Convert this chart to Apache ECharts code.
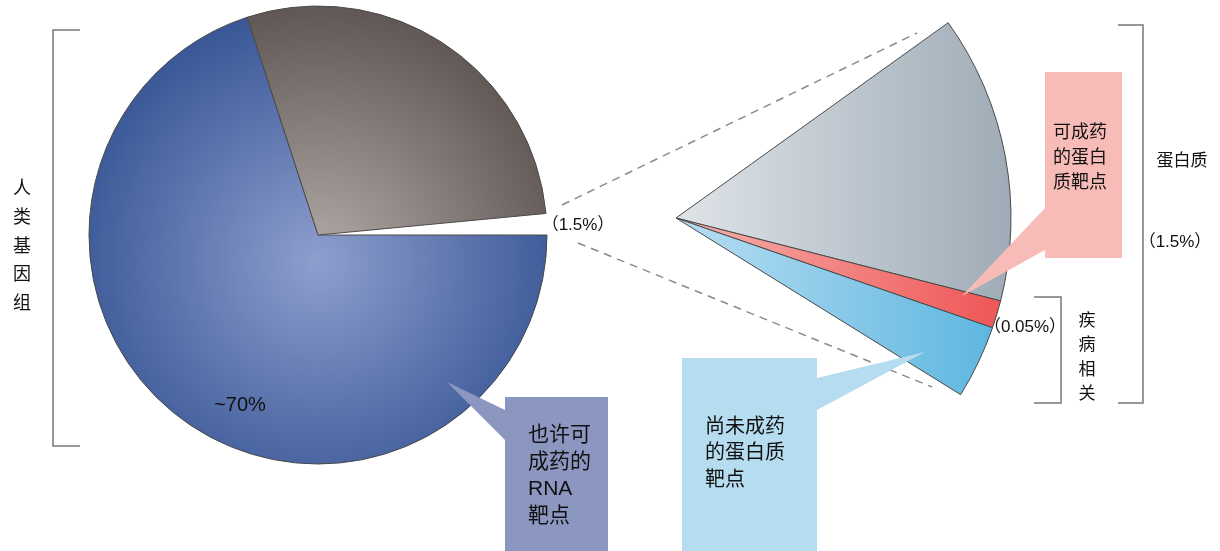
<!DOCTYPE html>
<html lang="zh">
<head>
<meta charset="UTF-8">
<title>人类基因组与药物靶点</title>
<script src="https://cdn.jsdelivr.net/npm/echarts@6/dist/echarts.min.js"></script>
<style>
  html, body { margin: 0; padding: 0; background: #fff; }
  #main { width: 1220px; height: 551px; }
</style>
</head>
<body>
<div id="main"></div>
<script>
// 人类基因组：左边的大饼
var genomeNames = ['也许可成药的RNA靶点', '其他', '蛋白质'];
var genomeValues = [70, 28.5, 1.5];
// 蛋白质部分放大成扇形（按图上读出的角度份额）
var proteinNames = ['其他蛋白质', '可成药的蛋白质靶点', '尚未成药的蛋白质靶点'];
var proteinValues = [50, 4.8, 12.7];
// 图上的文字
var pctLabels = ['~70%', '（1.5%）', '（0.05%）', '（1.5%）'];
var sideLabels = ['人类基因组', '疾病相关', '蛋白质'];
var boxLabels = [
  ['也许可', '成药的', 'RNA', '靶点'],
  ['尚未成药', '的蛋白质', '靶点'],
  ['可成药', '的蛋白', '质靶点']
];

var FONT = '"Liberation Sans", "Noto Sans CJK SC", sans-serif';
var CJK = '"Noto Sans CJK SC", sans-serif';

function lin(c1, c2) {
  return { type: 'linear', x: 676, y: 0, x2: 1013, y2: 0, global: true,
    colorStops: [{ offset: 0, color: c1 }, { offset: 1, color: c2 }] };
}
function rad(c1, c2) {
  return { type: 'radial', x: 318, y: 262, r: 250, global: true,
    colorStops: [{ offset: 0, color: c1 }, { offset: 1, color: c2 }] };
}

var border = { borderColor: '#4a4a4a', borderWidth: 1 };
var genomeStyles = [
  Object.assign({ color: rad('#8e9ecd', '#3a5897') }, border),
  Object.assign({ color: rad('#b3aba7', '#625956') }, border),
  { color: 'rgba(0,0,0,0)', borderWidth: 0 }
];
var proteinStyles = [
  Object.assign({ color: lin('#dfe4e8', '#9eabb6') }, border),
  Object.assign({ color: lin('#f7b2ae', '#ee5353') }, border),
  Object.assign({ color: lin('#b9def2', '#58b4df') }, border)
];

function vtext(str) { return str.split('').join('\n'); }
function txt(x, y, text, size, opts) {
  return {
    type: 'text', x: x, y: y, z: 110,
    style: Object.assign({ text: text, fill: '#111', font: size + 'px ' + FONT,
      textAlign: 'center', textVerticalAlign: 'middle' }, opts || {})
  };
}
function bracket(pts) {
  return { type: 'polyline', z: 100, shape: { points: pts },
    style: { stroke: '#777', lineWidth: 1.5, fill: null } };
}

var chart = echarts.init(document.getElementById('main'));
chart.setOption({
  backgroundColor: '#fff',
  animation: false,
  series: [
    {
      type: 'pie', silent: true,
      center: [318, 235], radius: 229,
      startAngle: 0, clockwise: true,
      label: { show: false }, labelLine: { show: false },
      data: genomeValues.map(function (v, i) {
        return { name: genomeNames[i], value: v, itemStyle: genomeStyles[i] };
      })
    },
    {
      type: 'pie', silent: true,
      center: [676, 218], radius: 335,
      startAngle: 35.66, endAngle: -31.82, clockwise: true,
      label: { show: false }, labelLine: { show: false },
      data: proteinValues.map(function (v, i) {
        return { name: proteinNames[i], value: v, itemStyle: proteinStyles[i] };
      })
    }
  ],
  graphic: [
    // 虚线
    { type: 'line', z: 1, shape: { x1: 562, y1: 205, x2: 917, y2: 33 },
      style: { stroke: '#8a8a8a', lineWidth: 1.5, lineDash: [8, 6] } },
    { type: 'line', z: 1, shape: { x1: 578, y1: 243, x2: 932, y2: 387 },
      style: { stroke: '#8a8a8a', lineWidth: 1.5, lineDash: [8, 6] } },
    // 括号
    bracket([[80, 30], [53, 30], [53, 446], [80, 446]]),
    bracket([[1118, 25], [1143, 25], [1143, 403], [1118, 403]]),
    bracket([[1034, 297], [1061, 297], [1061, 403], [1034, 403]]),
    // 标注框
    { type: 'polygon', z: 100, shape: { points: [[447, 382], [505, 410], [505, 440]] }, style: { fill: '#8b97c1' } },
    { type: 'rect', z: 100, shape: { x: 505, y: 397, width: 103, height: 160 }, style: { fill: '#8b97c1' } },
    { type: 'polygon', z: 100, shape: { points: [[962, 296], [1045, 208], [1045, 250]] }, style: { fill: '#f7bcb7' } },
    { type: 'rect', z: 100, shape: { x: 1045, y: 72, width: 77, height: 186 }, style: { fill: '#f7bcb7' } },
    { type: 'polygon', z: 100, shape: { points: [[925, 352], [817, 378], [817, 410]] }, style: { fill: '#b6dcf0' } },
    { type: 'rect', z: 100, shape: { x: 682, y: 358, width: 135, height: 200 }, style: { fill: '#b6dcf0' } },
    // 文字
    txt(240, 405, pctLabels[0], 20),
    txt(578, 225, pctLabels[1], 17),
    txt(1025, 327, pctLabels[2], 17),
    txt(1175, 242, pctLabels[3], 17),
    txt(22, 173, vtext(sideLabels[0]), 18, { textVerticalAlign: 'top', lineHeight: 28.7, font: '18px ' + CJK }),
    txt(1087, 307, vtext(sideLabels[1]), 17, { textVerticalAlign: 'top', lineHeight: 24.5, font: '17px ' + CJK }),
    txt(1182, 160, sideLabels[2], 17, { font: '17px ' + CJK }),
    txt(528, 422, boxLabels[0].join('\n'), 21, { textAlign: 'left', textVerticalAlign: 'top', lineHeight: 27 }),
    txt(705, 414, boxLabels[1].join('\n'), 20, { textAlign: 'left', textVerticalAlign: 'top', lineHeight: 26.5 }),
    txt(1053, 121, boxLabels[2].join('\n'), 18, { textAlign: 'left', textVerticalAlign: 'top', lineHeight: 25 })
  ]
});
</script>
</body>
</html>
